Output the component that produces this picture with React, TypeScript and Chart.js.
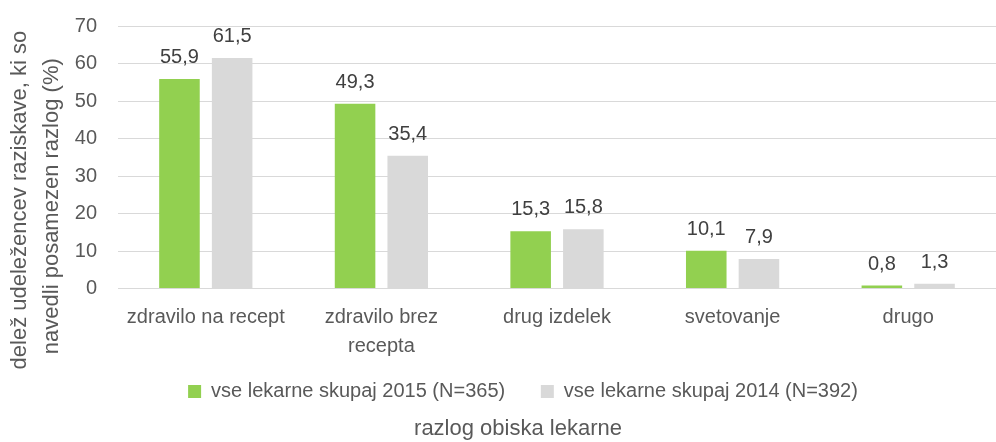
import React, { useEffect, useRef } from "react";
import { Chart, registerables } from "chart.js";

Chart.register(...registerables);

const categories: (string | string[])[] = [
  "zdravilo na recept",
  ["zdravilo brez", "recepta"],
  "drug izdelek",
  "svetovanje",
  "drugo",
];
const series2015 = [55.9, 49.3, 15.3, 10.1, 0.8];
const series2014 = [61.5, 35.4, 15.8, 7.9, 1.3];
const label2015 = "vse lekarne skupaj 2015 (N=365)";
const label2014 = "vse lekarne skupaj 2014 (N=392)";
const yTitle = ["delež udeležencev raziskave, ki so", "navedli posamezen razlog (%)"];
const xTitle = "razlog obiska lekarne";

const FONT = "'Liberation Sans', Arial, sans-serif";
const TEXT = "#595959";
const FS = 20;
const TFS = 22;

const dataLabels = {
  id: "dataLabels",
  afterDatasetsDraw(chart: any) {
    const ctx = chart.ctx;
    ctx.save();
    ctx.font = `${FS}px ${FONT}`;
    ctx.fillStyle = "#404040";
    ctx.textAlign = "center";
    ctx.textBaseline = "alphabetic";
    chart.data.datasets.forEach((ds: any, i: number) => {
      const meta = chart.getDatasetMeta(i);
      meta.data.forEach((bar: any, j: number) => {
        const v = ds.data[j] as number;
        ctx.fillText(v.toFixed(1).replace(".", ","), bar.x, bar.y - 16);
      });
    });
    ctx.restore();
  },
};

const shiftBottom = {
  id: "shiftBottom",
  afterLayout(chart: any) {
    if (chart.legend) {
      chart.legend.left += 25;
      chart.legend.right += 25;
      chart.legend.top += 2;
      chart.legend.bottom += 2;
    }
    if (chart.titleBlock) {
      chart.titleBlock.left += 20;
      chart.titleBlock.right += 20;
    }
  },
};

export default function App() {
  const ref = useRef<HTMLCanvasElement>(null);
  useEffect(() => {
    if (!ref.current) return;
    const chart = new Chart(ref.current, {
      type: "bar",
      data: {
        labels: categories,
        datasets: [
          {
            label: label2015,
            data: series2015,
            backgroundColor: "#92D050",
            categoryPercentage: 0.6,
            barPercentage: 0.77,
          },
          {
            label: label2014,
            data: series2014,
            backgroundColor: "#D9D9D9",
            categoryPercentage: 0.6,
            barPercentage: 0.77,
          },
        ],
      },
      options: {
        animation: false,
        responsive: true,
        maintainAspectRatio: false,
        layout: { padding: { top: 26, right: 0, left: 0, bottom: 0 } },
        scales: {
          x: {
            grid: { display: false, drawTicks: false },
            border: { color: "#D9D9D9" },
            ticks: {
              color: TEXT,
              font: { family: FONT, size: FS, lineHeight: 1.45 },
              padding: 14,
              maxRotation: 0,
              autoSkip: false,
            },
            afterFit(s: any) {
              s.height = 72;
              s.paddingLeft = 0;
              s.paddingRight = 0;
            },
          },
          y: {
            min: 0,
            max: 70,
            ticks: {
              stepSize: 10,
              color: TEXT,
              font: { family: FONT, size: FS },
              padding: 21,
            },
            grid: { color: "#D9D9D9", drawTicks: false },
            border: { display: false },
            title: {
              display: true,
              text: [yTitle[0] + " ".repeat(14), yTitle[1] + " ".repeat(16)],
              color: TEXT,
              font: { family: FONT, size: TFS, lineHeight: 1.45 },
              padding: { top: 4, bottom: 0 },
            },
            afterFit(s: any) {
              s.width = 118;
              s.paddingTop = 0;
              s.paddingBottom = 0;
            },
          },
        },
        plugins: {
          legend: {
            position: "bottom",
            labels: {
              color: TEXT,
              font: { family: FONT, size: FS },
              boxWidth: 13,
              boxHeight: 13,
              padding: 19,
              generateLabels(chart: any) {
                const items = Chart.defaults.plugins.legend.labels.generateLabels(chart);
                return items.map((it: any, i: number) =>
                  i === 0 ? { ...it, text: it.text + "   " } : it
                );
              },
            },
          },
          title: {
            display: true,
            position: "bottom",
            text: xTitle,
            color: TEXT,
            font: { family: FONT, size: TFS, weight: "normal" },
            padding: { top: 6, bottom: 0 },
          },
          tooltip: { enabled: false },
        },
      },
      plugins: [dataLabels, shiftBottom],
    });
    return () => chart.destroy();
  }, []);
  return (
    <div style={{ position: "absolute", left: 0, top: 0, width: 996, height: 442 }}>
      <canvas ref={ref} />
    </div>
  );
}
